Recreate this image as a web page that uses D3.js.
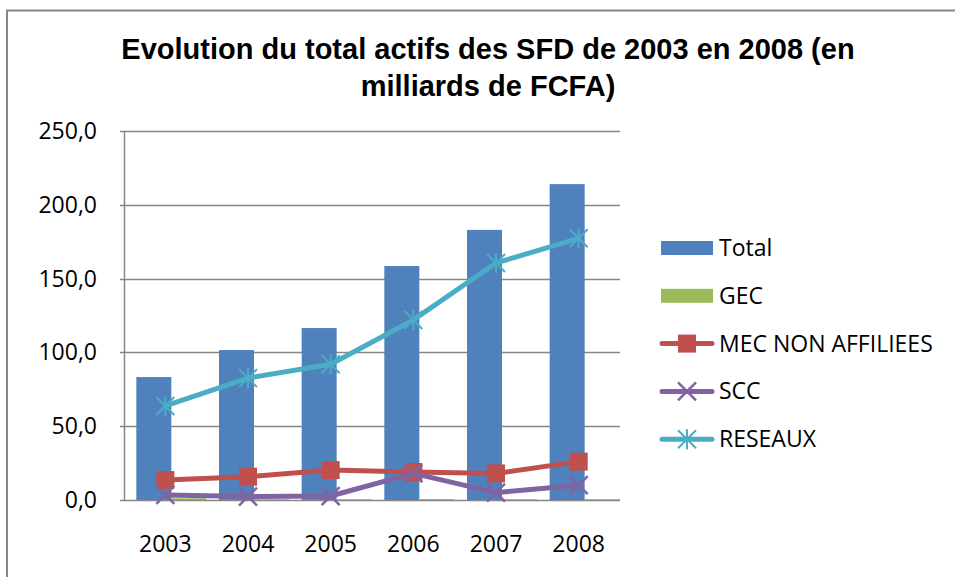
<!DOCTYPE html>
<html>
<head>
<meta charset="utf-8">
<script src="https://cdn.jsdelivr.net/npm/d3@7.9.0/dist/d3.min.js"></script>
<style>
  body { margin: 0; background: #fff; }
  svg text { font-family: "Open Sans", "Noto Sans", sans-serif; fill: #000; }
  svg text.title { font-family: "Liberation Sans", Arial, sans-serif; font-weight: bold; }
</style>
</head>
<body>
<svg id="chart" width="955" height="577"></svg>
<script>
// Data
const years = ["2003", "2004", "2005", "2006", "2007", "2008"];
const total = [83.3, 101.6, 116.5, 158.5, 183.0, 214.0];
const gec = [1.2, 0.5, 0.5, 0.6, 0.5, 0.5];
const mecNonAffiliees = [13.5, 15.8, 20.3, 19.0, 18.0, 26.0];
const scc = [3.4, 2.3, 2.7, 18.0, 5.0, 10.0];
const reseaux = [63.7, 82.6, 92.0, 122.0, 160.6, 177.3];
const yTicks = [0, 50, 100, 150, 200, 250];

const colors = {
  total: "#4F81BD", gec: "#9BBB59", mec: "#C0504D", scc: "#8064A2", reseaux: "#4BACC6"
};

const svg = d3.select("#chart");

// outer chart border
svg.append("rect")
  .attr("x", 7).attr("y", 10.5)
  .attr("width", 960).attr("height", 580)
  .attr("fill", "none").attr("stroke", "#868686").attr("stroke-width", 2);

// title
const title = svg.append("text")
  .attr("class", "title")
  .attr("text-anchor", "middle")
  .attr("font-size", 29);
title.append("tspan").attr("x", 488).attr("y", 59)
  .text("Evolution du total actifs des SFD de 2003 en 2008 (en");
title.append("tspan").attr("x", 488).attr("y", 96)
  .text("milliards de FCFA)");

const plot = { left: 124, right: 620, top: 131, bottom: 500 };

const x = d3.scaleBand().domain(years).range([plot.left, plot.right]);
const xBar = d3.scaleBand().domain(["total", "gec"]).range([-29, 41]);
const y = d3.scaleLinear().domain([0, 250]).range([plot.bottom, plot.top]);
const cx = d => x(d) + x.bandwidth() / 2;

// gridlines
svg.append("g")
  .selectAll("line")
  .data(yTicks.filter(t => t > 0))
  .join("line")
  .attr("x1", plot.left - 4).attr("x2", plot.right)
  .attr("y1", d => Math.round(y(d)) + 0.5).attr("y2", d => Math.round(y(d)) + 0.5)
  .attr("stroke", "#868686").attr("stroke-width", 1.5);

// y axis labels
svg.append("g")
  .selectAll("text")
  .data(yTicks)
  .join("text")
  .attr("x", 97).attr("y", d => y(d) + 8)
  .attr("text-anchor", "end").attr("font-size", 23)
  .text(d => d3.format(".1f")(d).replace(".", ","));

// bars
const barSeries = [
  { key: "total", values: total },
  { key: "gec", values: gec }
];
barSeries.forEach(s => {
  svg.append("g")
    .selectAll("rect")
    .data(years)
    .join("rect")
    .attr("x", d => cx(d) + xBar(s.key))
    .attr("width", xBar.bandwidth())
    .attr("y", (d, i) => y(s.values[i]))
    .attr("height", (d, i) => y(0) - y(s.values[i]))
    .attr("fill", colors[s.key]);
});

// axes lines
svg.append("line")
  .attr("x1", plot.left - 4).attr("x2", plot.right)
  .attr("y1", plot.bottom + 0.5).attr("y2", plot.bottom + 0.5)
  .attr("stroke", "#868686").attr("stroke-width", 1.5);
svg.append("line")
  .attr("x1", plot.left + 0.5).attr("x2", plot.left + 0.5)
  .attr("y1", plot.top).attr("y2", plot.bottom + 1)
  .attr("stroke", "#868686").attr("stroke-width", 1.5);

// x labels
svg.append("g")
  .selectAll("text")
  .data(years)
  .join("text")
  .attr("x", d => cx(d)).attr("y", 552)
  .attr("text-anchor", "middle").attr("font-size", 23)
  .text(d => d);

// marker drawers
function drawMarker(g, type, color) {
  if (type === "square") {
    g.append("rect").attr("x", -9).attr("y", -9).attr("width", 18).attr("height", 18)
      .attr("fill", color);
  } else if (type === "x") {
    g.append("path").attr("d", "M-9,-9L9,9M-9,9L9,-9")
      .attr("stroke", color).attr("stroke-width", 2.5).attr("fill", "none");
  } else if (type === "star") {
    g.append("path").attr("d", "M-9,-9L9,9M-9,9L9,-9M0,-10L0,10")
      .attr("stroke", color).attr("stroke-width", 2).attr("fill", "none");
  }
}

const lineSeries = [
  { name: "MEC NON AFFILIEES", values: mecNonAffiliees, color: colors.mec, marker: "square" },
  { name: "SCC", values: scc, color: colors.scc, marker: "x" },
  { name: "RESEAUX", values: reseaux, color: colors.reseaux, marker: "star" }
];

const line = d3.line().x(d => cx(d.year)).y(d => y(d.value));

lineSeries.forEach(s => {
  const pts = years.map((yr, i) => ({ year: yr, value: s.values[i] }));
  svg.append("path")
    .datum(pts)
    .attr("d", line)
    .attr("fill", "none").attr("stroke", s.color)
    .attr("stroke-width", 5).attr("stroke-linejoin", "round").attr("stroke-linecap", "round");
  pts.forEach(p => {
    const g = svg.append("g").attr("transform", `translate(${cx(p.year)},${y(p.value)})`);
    drawMarker(g, s.marker, s.color);
  });
});

// legend
const legendItems = [
  { name: "Total", color: colors.total, type: "bar" },
  { name: "GEC", color: colors.gec, type: "bar" },
  ...lineSeries.map(s => ({ name: s.name, color: s.color, type: s.marker }))
];
const legend = svg.append("g");
legendItems.forEach((d, i) => {
  const ly = 248 + i * 47.8;
  const g = legend.append("g").attr("transform", `translate(0,${ly})`);
  if (d.type === "bar") {
    g.append("rect").attr("x", 661).attr("y", -7).attr("width", 52).attr("height", 14)
      .attr("fill", d.color);
  } else {
    g.append("line").attr("x1", 662).attr("x2", 712).attr("y1", 0).attr("y2", 0)
      .attr("stroke", d.color).attr("stroke-width", 5).attr("stroke-linecap", "round");
    const m = g.append("g").attr("transform", "translate(687,0)");
    drawMarker(m, d.type, d.color);
  }
  g.append("text").attr("x", 719).attr("y", 8).attr("font-size", 23).text(d.name);
});
</script>
</body>
</html>
